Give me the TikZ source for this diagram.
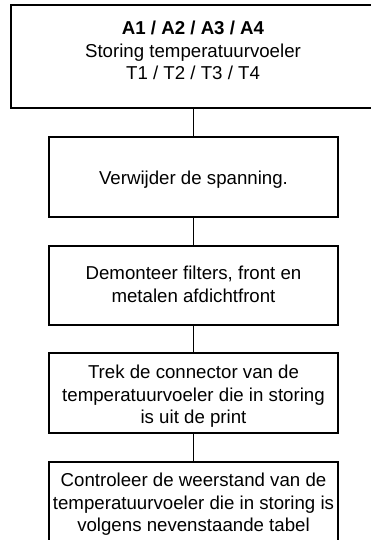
\documentclass[tikz,border=0pt]{standalone}
\usepackage{fontspec}
\setmainfont{Liberation Sans}
\begin{document}
\begin{tikzpicture}[x=0.75pt,y=-0.75pt,
  box/.style={draw=black,line width=1pt,rectangle,inner sep=0pt,minimum width=216.75pt},
  lbl/.style={align=center,font=\fontsize{14pt}{16.9pt}\selectfont,inner sep=0pt},
  conn/.style={draw=black,line width=1pt}]
\useasboundingbox (0,0) rectangle (371,540);
\clip (0,0) rectangle (371,540);
\node[box,minimum width=276.75pt,minimum height=77.25pt] (b1) at (195.5,56.5) {};
\node[lbl] (t1) at (193,50.5) {\textbf{A1 / A2 / A3 / A4}\\Storing temperatuurvoeler\\T1 / T2 / T3 / T4};
\node[box,minimum height=60pt] (b2) at (193.5,177) {};
\node[lbl] (t2) at (193.5,180) {Verwijder de spanning.};
\node[box,minimum height=59.25pt] (b3) at (193.5,285.5) {};
\node[lbl] (t3) at (193.5,284.5) {Demonteer filters, front en\\metalen afdichtfront};
\node[box,minimum height=60pt] (b4) at (193.5,393) {};
\node[lbl] (t4) at (193.5,396.5) {Trek de connector van de\\temperatuurvoeler die in storing\\is uit de print};
\node[box,minimum height=73.5pt] (b5) at (193.5,511) {};
\node[lbl] (t5) at (193.5,504.5) {Controleer de weerstand van de\\temperatuurvoeler die in storing is\\volgens nevenstaande tabel};
\draw[conn] (b2.north |- b1.south) -- (b2.north);
\draw[conn] (b2.south) -- (b3.north);
\draw[conn] (b3.south) -- (b4.north);
\draw[conn] (b4.south) -- (b5.north);
\end{tikzpicture}
\end{document}
